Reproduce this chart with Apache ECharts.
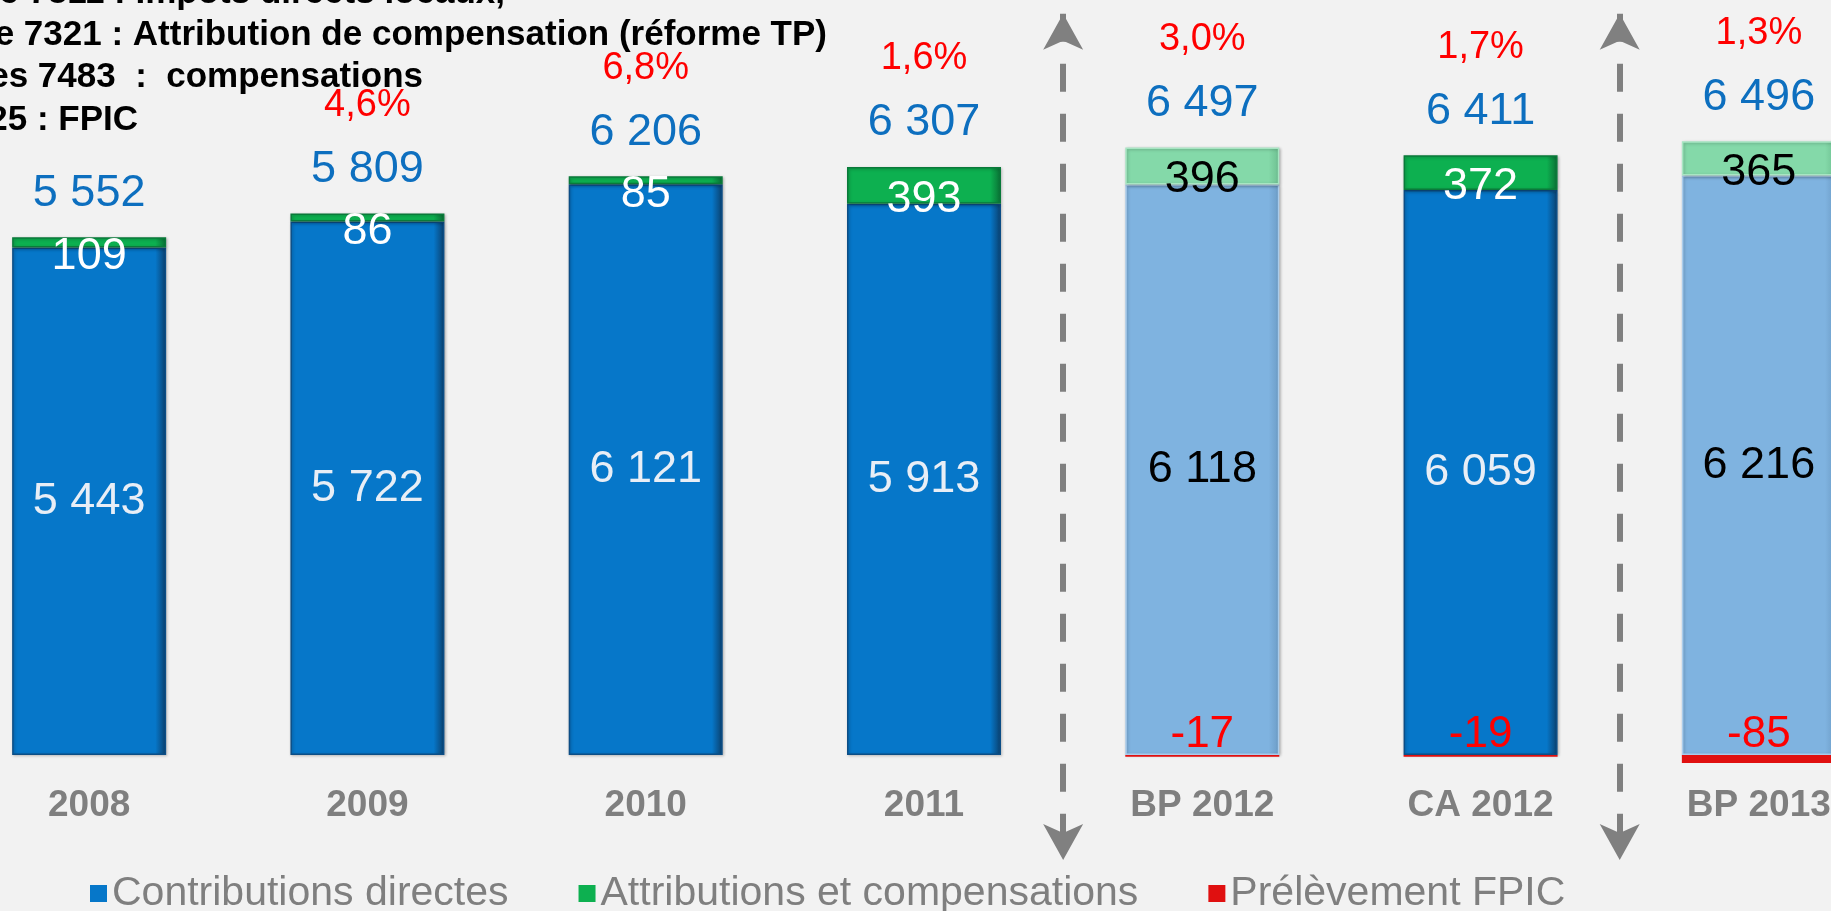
<!DOCTYPE html>
<html>
<head>
<meta charset="utf-8">
<script src="https://cdn.jsdelivr.net/npm/echarts@6/dist/echarts.min.js"></script>
<style>
html,body{margin:0;padding:0;background:#F2F2F2;}
#chart{width:1831px;height:911px;}
</style>
</head>
<body>
<div id="chart"></div>
<script>
// ---- data ----
const categories = ['2008', '2009', '2010', '2011', 'BP 2012', 'CA 2012', 'BP 2013'];
const contributions = [5443, 5722, 6121, 5913, 6118, 6059, 6216];
const attributions = [109, 86, 85, 393, 396, 372, 365];
const fpic = [null, null, null, null, -17, -19, -85];
const totals = [5552, 5809, 6206, 6307, 6497, 6411, 6496];
const growth = ['', '4,6%', '6,8%', '1,6%', '3,0%', '1,7%', '1,3%'];
const seriesNames = ['Contributions directes', 'Attributions et compensations', 'Prélèvement FPIC'];
const notes = [
  'Compte 7311 : Impôts directs locaux,',
  'Compte 7321 : Attribution de compensation (réforme TP)',
  'Comptes 7483  :  compensations',
  'Compte 73925 : FPIC'
];
// separators between periods (category index positions)
const separators = [3.5, 5.5];

// ---- styling ----
const FONT = '"Liberation Sans", Arial, sans-serif';
const isBudget = c => c.indexOf('BP') === 0;
const fmt = v => String(v).replace(/\B(?=(\d{3})+(?!\d))/g, ' ');

const BLUE = '#0677C9', BLUE_LIGHT = '#7FB3E0';
const GREEN = '#0DB050', GREEN_LIGHT = '#84D9A9';
const RED = '#E01010';

function grad(c, edge) {
  return {type: 'linear', x: 0, y: 0, x2: 1, y2: 0,
    colorStops: [{offset: 0, color: c}, {offset: 0.93, color: c}, {offset: 1, color: edge}]};
}

const blueData = contributions.map((v, i) => {
  const b = isBudget(categories[i]);
  return {value: v,
    itemStyle: {color: b ? grad(BLUE_LIGHT, '#6C9CC6') : grad(BLUE, '#0B3F6C'), borderColor: b ? '#A9CCEB' : '#0C4E86'},
    label: {color: b ? '#000000' : '#E8EEF6'}};
});
const greenData = attributions.map((v, i) => {
  const b = isBudget(categories[i]);
  return {value: v,
    itemStyle: {color: b ? grad(GREEN_LIGHT, '#6DBF90') : grad(GREEN, '#0A6E34'), borderColor: b ? '#A8E6C3' : '#0A7A3A'},
    label: {color: b ? '#000000' : '#FFFFFF'}};
});
const totalData = categories.map(() => 0);

const arrowLines = separators.map(x => [{coord: [x, 7950]}, {coord: [x, -1125]}]);

const chart = echarts.init(document.getElementById('chart'), null, {renderer: 'canvas'});

const option = {
  backgroundColor: '#F2F2F2',
  animation: false,
  textStyle: {fontFamily: FONT},
  grid: {left: -50, right: -67, top: 9, bottom: 44, outerBoundsMode: 'none', containLabel: false},
  legend: {
    data: seriesNames,
    left: 85, top: 868,
    icon: 'rect', itemWidth: 17, itemHeight: 17, itemGap: 70,
    textStyle: {color: '#7F7F7F', fontSize: 41, fontFamily: FONT}
  },
  xAxis: [{
    type: 'category', data: categories,
    axisLine: {show: false, onZero: false}, axisTick: {show: false},
    axisLabel: {inside: true, color: '#7F7F7F', fontSize: 37, fontWeight: 'bold', fontFamily: FONT, margin: 43}
  }, {
    type: 'value', min: -0.5, max: 6.5, show: false,
    axisLine: {onZero: false}
  }],
  yAxis: {type: 'value', min: -1200, max: 8000, show: false, splitLine: {show: false}, axisLine: {onZero: false}},
  series: [
    {
      name: seriesNames[0], type: 'bar', stack: 'a', barWidth: 154,
      data: blueData,
      itemStyle: {color: BLUE, borderWidth: 1.5, shadowColor: 'rgba(0,0,0,0.25)', shadowBlur: 3, shadowOffsetX: 1, shadowOffsetY: 1},
      label: {show: true, position: 'inside', fontSize: 45, fontFamily: FONT, formatter: p => fmt(p.value)}
    },
    {
      name: seriesNames[1], type: 'bar', stack: 'a', barWidth: 154,
      data: greenData,
      itemStyle: {color: GREEN, borderWidth: 1.5, shadowColor: 'rgba(0,0,0,0.25)', shadowBlur: 3, shadowOffsetX: 1, shadowOffsetY: 1},
      label: {show: true, position: 'inside', offset: [0, 14], fontSize: 45, fontFamily: FONT, formatter: p => fmt(p.value)}
    },
    {
      name: 'Total', type: 'bar', stack: 'a', barWidth: 154,
      data: totalData,
      itemStyle: {color: 'rgba(0,0,0,0)'},
      label: {
        show: true, position: 'top', distance: 21,
        formatter: p => (growth[p.dataIndex] ? '{p|' + growth[p.dataIndex] + '}\n' : '') + '{t|' + fmt(totals[p.dataIndex]) + '}',
        rich: {
          p: {color: '#FF0000', fontSize: 38, lineHeight: 82, fontFamily: FONT},
          t: {color: '#0D6FBF', fontSize: 45, lineHeight: 46, fontFamily: FONT}
        }
      }
    },
    {
      name: seriesNames[2], type: 'bar', stack: 'a', barWidth: 154,
      data: fpic,
      itemStyle: {color: RED},
      label: {show: true, position: 'top', distance: 0, color: '#FF0000', fontSize: 44, lineHeight: 40, fontFamily: FONT,
        formatter: p => fmt(p.value)}
    },
    {
      type: 'scatter', xAxisIndex: 1, yAxisIndex: 0, data: [], silent: true,
      markLine: {
        silent: true, symbol: ['arrow', 'arrow'], symbolSize: [30, 36],
        label: {show: false},
        lineStyle: {color: '#808080', width: 6, type: [28, 22]},
        emphasis: {disabled: true},
        data: arrowLines
      }
    }
  ],
  graphic: notes.map((t, i) => ({
    type: 'text',
    x: [505, 827, 423, 138][i],
    y: [-7, 35, 77, 120][i],
    style: {text: t, font: 'bold 35px "Liberation Sans", Arial, sans-serif', fill: '#000000', align: 'right', verticalAlign: 'middle'}
  }))
};
chart.setOption(option);
</script>
</body>
</html>
